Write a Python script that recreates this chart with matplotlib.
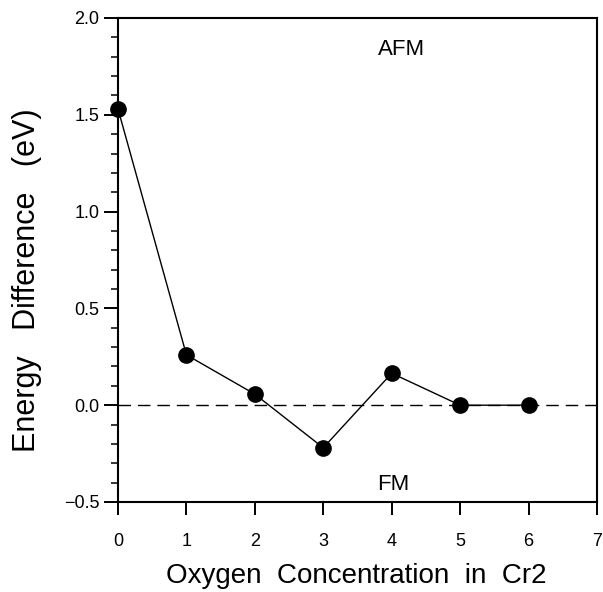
import matplotlib
matplotlib.use("Agg")
import matplotlib.pyplot as plt
from matplotlib.ticker import MultipleLocator

x = [0, 1, 2, 3, 4, 5, 6]
energy = [1.53, 0.26, 0.057, -0.22, 0.165, 0.0, 0.0]
xticks = [0, 1, 2, 3, 4, 5, 6, 7]
yticks = [-0.5, 0.0, 0.5, 1.0, 1.5, 2.0]

plt.rcParams['font.family'] = ['Liberation Sans', 'DejaVu Sans']

W, H = 603, 592
fig = plt.figure(figsize=(W / 100, H / 100), dpi=100)
ax = fig.add_axes([118 / W, 1 - 502 / H, (597 - 118) / W, (502 - 18) / H])

ax.axhline(0, color='black', lw=1.0, ls=(0, (9, 5)), zorder=1)
ax.plot(x, energy, color='black', lw=1.0, marker='o', markersize=11,
        zorder=3, clip_on=False)

ax.set_xlim(0, 7)
ax.set_ylim(-0.5, 2.0)
ax.set_xticks(xticks)
ax.set_xticklabels([str(t) for t in xticks])
ax.set_yticks(yticks)
ax.set_yticklabels([f"{t:.1f}".replace("-", "\u2212") for t in yticks])
ax.yaxis.set_minor_locator(MultipleLocator(0.1))

ax.tick_params(axis='both', direction='out', labelsize=13, width=1.4)
ax.tick_params(axis='x', which='major', length=9.5, pad=13)
ax.tick_params(axis='y', which='major', length=10, pad=3.5)
ax.tick_params(axis='y', which='minor', length=5, width=1.1)
for s in ax.spines.values():
    s.set_linewidth(1.5)

ax.text(4.15, 1.835, "AFM", ha='center', va='center', fontsize=16)
ax.text(4.02, -0.41, "FM", ha='center', va='center', fontsize=16)

fig.text(356 / W, 1 - 583 / H, "Oxygen  Concentration  in  Cr2",
         ha='center', va='baseline', fontsize=20)
fig.text(27 / W, 1 - 280 / H, "Energy   Difference   (eV)",
         ha='center', va='center', rotation=90, fontsize=22)

fig.savefig("out.png", dpi=100)
